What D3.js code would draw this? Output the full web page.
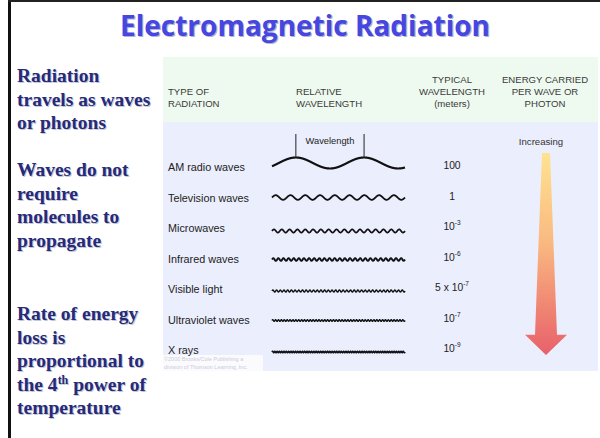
<!DOCTYPE html>
<html><head><meta charset="utf-8">
<script src="https://cdn.jsdelivr.net/npm/d3@7"></script>
<style>html,body{margin:0;padding:0;background:#fff;}svg{display:block;}</style>
</head><body>
<svg id="chart" width="600" height="438"></svg>
<script>
// ---- data ----
const title = "Electromagnetic Radiation";
const bulletBlocks = [
  ["Radiation", "travels as waves", "or photons"],
  ["Waves do not", "require", "molecules to", "propagate"],
  ["Rate of energy", "loss is", "proportional to", "the 4|th| power of", "temperature"]
];
const headerType = ["TYPE OF", "RADIATION"];
const headerRel = ["RELATIVE", "WAVELENGTH"];
const headerTyp = ["TYPICAL", "WAVELENGTH", "(meters)"];
const headerEnergy = ["ENERGY CARRIED", "PER WAVE OR", "PHOTON"];
const radiationTypes = ["AM radio waves", "Television waves", "Microwaves", "Infrared waves", "Visible light", "Ultraviolet waves", "X rays"];
const relativeCycles = [1.95, 9, 17, 26, 36, 46, 58];      // number of wave cycles drawn in the row
const wavelengthBase = ["100", "1", "10", "10", "5 x 10", "10", "10"];
const wavelengthExp  = ["", "", "-3", "-6", "-7", "-7", "-9"];
const energyLabel = "Increasing";
const credit = ["©2000 Brooks/Cole Publishing a", "division of Thomson Learning, Inc."];

// ---- drawing ----
const svg = d3.select("#chart");

// frame lines
svg.append("rect").attr("x", 8).attr("y", 0).attr("width", 3).attr("height", 438).attr("fill", "#111");
svg.append("rect").attr("x", 8).attr("y", 0).attr("width", 592).attr("height", 2).attr("fill", "#222");

// title with shadow
[["#b4b4cc", 1.2, 1.2], ["#4646e0", 0, 0]].forEach(([c, dx, dy]) => {
  svg.append("text").text(title)
    .attr("x", 305 + dx).attr("y", 36 + dy)
    .attr("text-anchor", "middle")
    .attr("font-family", "'Open Sans', sans-serif").attr("font-weight", 700)
    .attr("font-size", 28).attr("fill", c)
    .attr("textLength", 370).attr("lengthAdjust", "spacingAndGlyphs");
});

// left bullet text
const blockTop = [82, 176, 320];
const lineStep = 23.5;
bulletBlocks.forEach((lines, b) => {
  lines.forEach((ln, i) => {
    [["#c4c6d6", 1, 1], ["#262a78", 0, 0]].forEach(([c, dx, dy]) => {
      const t = svg.append("text")
        .attr("x", 17 + dx).attr("y", blockTop[b] + i * lineStep + dy)
        .attr("font-family", "'Liberation Serif', serif").attr("font-weight", "bold")
        .attr("font-size", 19.5).attr("fill", c);
      const parts = ln.split("|");
      parts.forEach((p, k) => {
        const ts = t.append("tspan").text(p);
        if (k === 1) ts.attr("font-size", 12).attr("dy", -7);
        if (k === 2) ts.attr("dy", 7);
      });
    });
  });
});

// panels
svg.append("rect").attr("x", 163).attr("y", 57).attr("width", 435).attr("height", 65).attr("fill", "#eef9ef");
svg.append("rect").attr("x", 163).attr("y", 122).attr("width", 435).attr("height", 249).attr("fill", "#ebeefd");
svg.append("rect").attr("x", 163).attr("y", 355).attr("width", 100).attr("height", 16).attr("fill", "#fbfbfe");

const sans = "'Liberation Sans', Arial, sans-serif";
function headerLines(lines, x, yTop, anchor) {
  lines.forEach((l, i) => {
    svg.append("text").text(l).attr("x", x).attr("y", yTop + i * 12)
      .attr("text-anchor", anchor).attr("font-family", sans)
      .attr("font-size", 9.6).attr("fill", "#3a3a3a");
  });
}
headerLines(headerType, 168, 95, "start");
headerLines(headerRel, 296, 95, "start");
headerLines(headerTyp, 452, 83, "middle");
headerLines(headerEnergy, 545, 83, "middle");

// scales
const y = d3.scalePoint().domain(radiationTypes).range([167, 350]);
const xw = d3.scaleLinear().domain([0, 1]).range([272, 405]);
const amp = [5.5, 2.3, 1.6, 1.3, 1.0, 0.85, 0.75];
const sw = [2.2, 1.8, 1.7, 1.9, 1.4, 1.4, 1.6];
const yOff = [-4, 0, 3, 1, 2, 1, 2];

// row labels
radiationTypes.forEach((t, i) => {
  svg.append("text").text(t).attr("x", 168).attr("y", y(t) + 4)
    .attr("font-family", sans).attr("font-size", 10.8).attr("fill", "#222");
});

// waves
const line = d3.line().x(d => xw(d[0])).y(d => d[1]).curve(d3.curveBasis);
radiationTypes.forEach((t, i) => {
  const n = relativeCycles[i];
  const cy = y(t) + yOff[i];
  const phase = i === 0 ? -0.35 * 2 * Math.PI + Math.PI / 2 : 0;
  const pts = d3.range(0, 1.0001, 1 / 800).map(u => [u, cy - amp[i] * Math.sin(2 * Math.PI * n * u + phase)]);
  svg.append("path").attr("d", line(pts)).attr("fill", "none")
    .attr("stroke", "#111").attr("stroke-width", sw[i]);
});

// wavelength marker on AM wave
{
  const n = relativeCycles[0];
  const phase = -0.35 * 2 * Math.PI + Math.PI / 2;
  const cy = y(radiationTypes[0]) + yOff[0];
  const crests = [];
  for (let k = 0; k < 3; k++) {
    const u = ((Math.PI / 2 - phase) / (2 * Math.PI) + k) / n;
    if (u >= 0 && u <= 1) crests.push(u);
  }
  crests.slice(0, 2).forEach(u => {
    svg.append("line").attr("x1", xw(u)).attr("x2", xw(u))
      .attr("y1", 134).attr("y2", cy - amp[0]).attr("stroke", "#222").attr("stroke-width", 1);
  });
  svg.append("text").text("Wavelength").attr("x", (xw(crests[0]) + xw(crests[1])) / 2).attr("y", 144)
    .attr("text-anchor", "middle").attr("font-family", sans).attr("font-size", 9.3).attr("fill", "#222");
}

// typical wavelengths
radiationTypes.forEach((t, i) => {
  const tx = svg.append("text").attr("x", 452).attr("y", y(t) + 2)
    .attr("text-anchor", "middle").attr("font-family", sans).attr("font-size", 10.3).attr("fill", "#222");
  tx.append("tspan").text(wavelengthBase[i]);
  if (wavelengthExp[i]) tx.append("tspan").text(wavelengthExp[i]).attr("font-size", 6.5).attr("dy", -5);
});

// energy arrow
const defs = svg.append("defs");
const g = defs.append("linearGradient").attr("id", "eg").attr("x1", 0).attr("y1", 0).attr("x2", 0).attr("y2", 1);
g.append("stop").attr("offset", "0%").attr("stop-color", "#ffe390");
g.append("stop").attr("offset", "45%").attr("stop-color", "#f9b880");
g.append("stop").attr("offset", "100%").attr("stop-color", "#e8606a");
svg.append("text").text(energyLabel).attr("x", 541).attr("y", 145)
  .attr("text-anchor", "middle").attr("font-family", sans).attr("font-size", 9.6).attr("fill", "#333");
const ay = d3.scaleLinear().domain([0, 1]).range([153, 355]);
const cx = 546;
const arrowPts = [[cx - 4, 0], [cx + 4, 0], [cx + 11, 0.9], [cx + 21, 0.9], [cx, 1], [cx - 21, 0.9], [cx - 11, 0.9]];
svg.append("path").attr("d", d3.line().x(d => d[0]).y(d => ay(d[1]))(arrowPts) + "Z").attr("fill", "url(#eg)");

// credit
credit.forEach((c, i) => {
  svg.append("text").text(c).attr("x", 164).attr("y", 361 + i * 8)
    .attr("font-family", sans).attr("font-size", 5.5).attr("fill", "#c9cbdb");
});
</script>
</body></html>
